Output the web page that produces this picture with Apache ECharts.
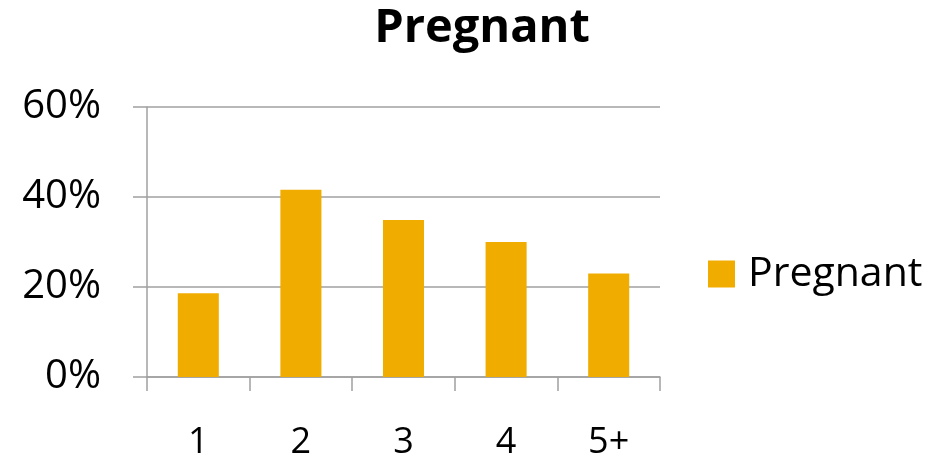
<!DOCTYPE html>
<html>
<head>
<meta charset="utf-8">
<script src="https://cdn.jsdelivr.net/npm/echarts@6/dist/echarts.min.js"></script>
<style>
  html, body { margin: 0; padding: 0; background: #fff; }
  #chart { width: 945px; height: 464px; }
</style>
</head>
<body>
<div id="chart"></div>
<script>
  // data
  var categories = ['1', '2', '3', '4', '5+'];
  var pregnant = [0.186, 0.416, 0.349, 0.300, 0.230];
  var yTicks = [0, 0.2, 0.4, 0.6];

  var axisColor = '#a0a0a0';
  var font = 'Open Sans';

  var chart = echarts.init(document.getElementById('chart'));
  var option = {
    animation: false,
    title: {
      text: 'Pregnant',
      left: 477,
      textAlign: 'center',
      top: 0,
      textStyle: { fontFamily: font, fontSize: 47, fontWeight: 'bold', color: '#000' }
    },
    legend: {
      data: ['Pregnant'],
      left: 708,
      top: 253,
      padding: 0,
      itemWidth: 27,
      itemHeight: 27,
      icon: 'rect',
      textStyle: { fontFamily: font, fontSize: 41, lineHeight: 42, color: '#000', padding: [0, 0, 0, 8] }
    },
    grid: { left: 147, right: 285, top: 107, bottom: 87 },
    xAxis: {
      type: 'category',
      data: categories,
      axisLine: { lineStyle: { color: axisColor, width: 1.5 } },
      axisTick: { show: true, length: 14, lineStyle: { color: axisColor, width: 1.5 } },
      axisLabel: { fontFamily: font, fontSize: 36, color: '#000', margin: 48 }
    },
    yAxis: {
      type: 'value',
      min: yTicks[0],
      max: yTicks[yTicks.length - 1],
      interval: 0.2,
      axisLine: { show: true, lineStyle: { color: axisColor, width: 1.5 } },
      axisTick: { show: true, length: 14, lineStyle: { color: axisColor, width: 1.5 } },
      splitLine: { lineStyle: { color: axisColor, width: 1.5 } },
      axisLabel: {
        fontFamily: font, fontSize: 40, color: '#000', margin: 46,
        formatter: function (v) { return Math.round(v * 100) + '%'; }
      }
    },
    series: [
      {
        name: 'Pregnant',
        type: 'bar',
        data: pregnant,
        barCategoryGap: '60%',
        itemStyle: { color: '#f0ad00' }
      }
    ]
  };
  chart.setOption(option);
</script>
</body>
</html>
